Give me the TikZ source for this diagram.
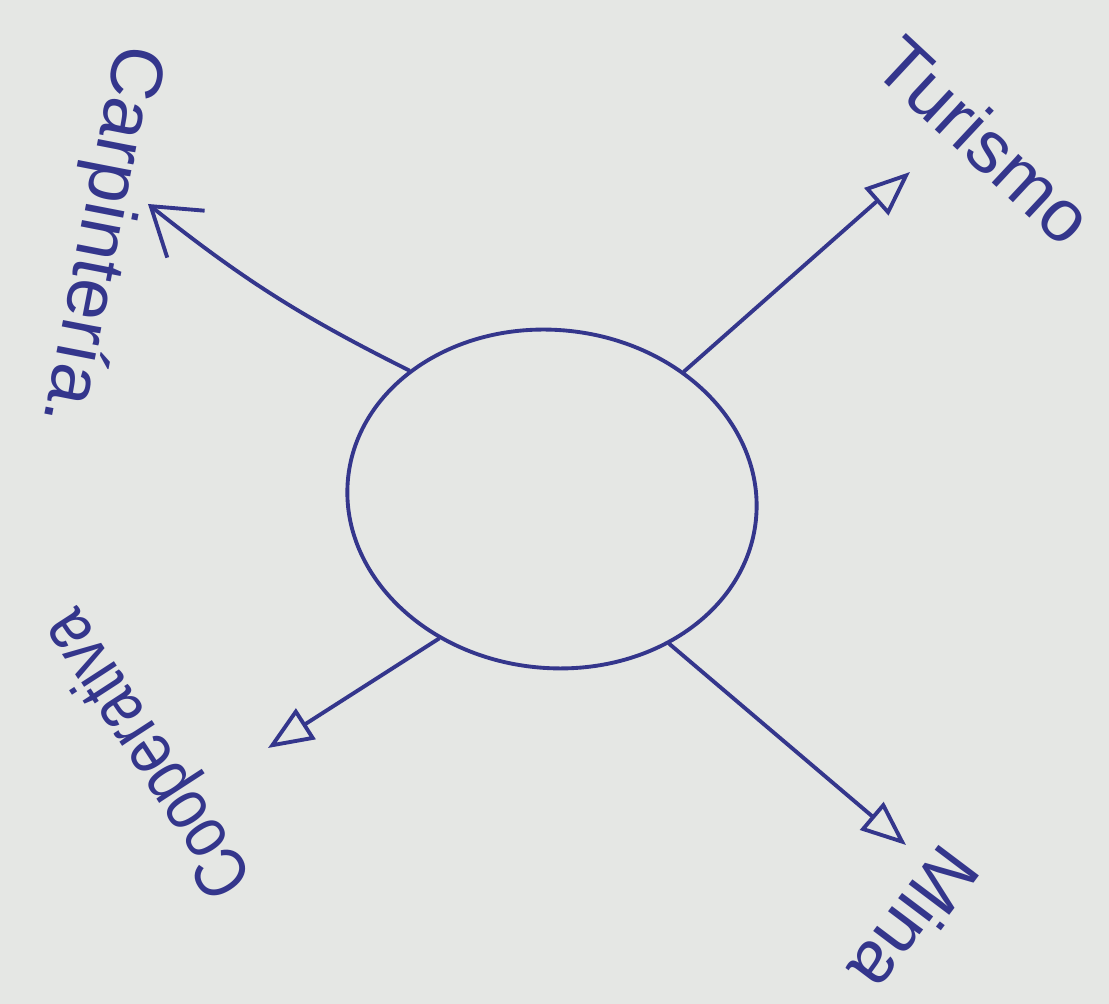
\documentclass[tikz,border=0pt]{standalone}
\usepackage{fontspec}
\setmainfont{Liberation Sans}
\usetikzlibrary{shapes.geometric,arrows.meta}

\definecolor{paper}{RGB}{229,231,228}
\definecolor{ink}{RGB}{52,54,140}

\tikzset{
    idea/.style={font=\fontsize{21}{24}\selectfont, text=ink, inner sep=0pt},
    branch/.style={draw=ink, line width=1.1pt, line cap=round},
    barbtip/.style={-{Straight Barb[length=4.5mm, width=6mm, line width=1.1pt]}},
    looptip/.style={-{Triangle[open, length=4.5mm, width=3.6mm, line width=1.1pt]}},
}

\begin{document}
\begin{tikzpicture}[x=0.1mm, y=-0.1mm]

    % Paper
    \fill[paper] (0,0) rectangle (1109,1004);
    \useasboundingbox (0,0) rectangle (1109,1004);

    % Central bubble
    \node[ellipse, draw=ink, line width=1.1pt, minimum width=41mm, minimum height=33.8mm, rotate=-6] (hub) at (552,499) {};

    % Ends of the branches
    \coordinate (carpEnd) at (148,204);
    \coordinate (turEnd) at (910,172);
    \coordinate (coopEnd) at (268,748);
    \coordinate (minaEnd) at (906,845);

    % Branches
    \draw[branch, barbtip] (hub.144) to[bend left=6] (carpEnd);
    \draw[branch, looptip] (hub.50) -- (turEnd);
    \draw[branch, looptip] (hub.237) -- (coopEnd);
    \draw[branch, looptip] (hub.315) -- (minaEnd);

    % Labels
    \node[idea, rotate=-101] (carp) at (100,235) {Carpintería.};
    \node[idea, rotate=-43] (tur) at (985,140) {Turismo};
    \node[idea, rotate=123, xscale=0.82] (coop) at (150,752) {Cooperativa};
    \node[idea, rotate=-127] (mina) at (915,920) {Mina};

\end{tikzpicture}
\end{document}
